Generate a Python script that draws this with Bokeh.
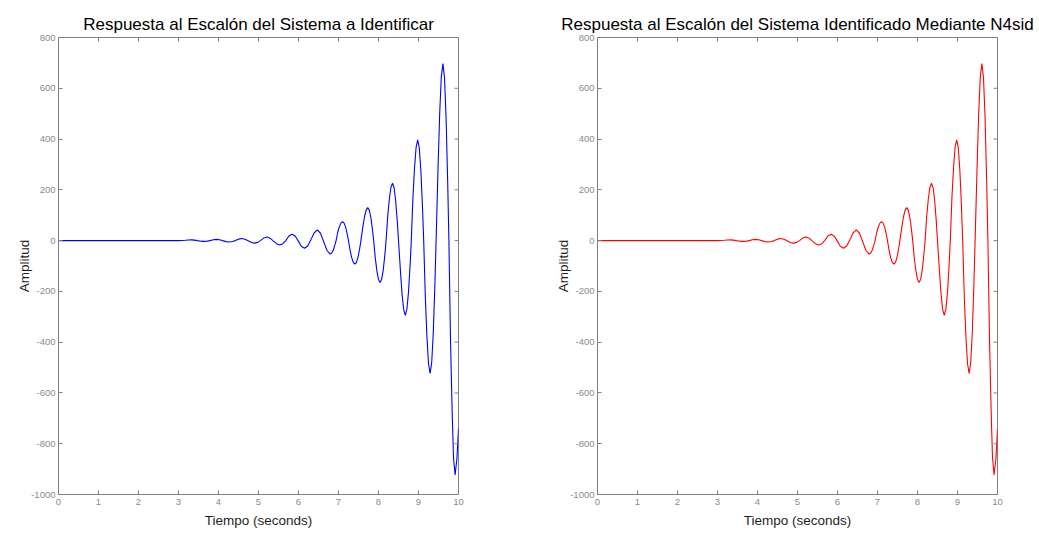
import math
from bokeh.plotting import figure
from bokeh.models import Range1d, FixedTicker
from bokeh.layouts import row
from bokeh.embed import file_html
from bokeh.resources import INLINE

# ---- data (time in seconds, amplitude) ----
time_s = [0.0, 3.00, 3.17, 3.25,
          3.32, 3.40, 3.47, 3.56,
          3.64, 3.72, 3.79, 3.87,
          3.95, 4.03, 4.10, 4.19,
          4.27, 4.35, 4.42, 4.50,
          4.58, 4.66, 4.73, 4.82,
          4.90, 4.98, 5.05, 5.13,
          5.21, 5.29, 5.36, 5.45,
          5.53, 5.61, 5.68, 5.76,
          5.84, 5.92, 5.99, 6.07,
          6.15, 6.23, 6.30, 6.39,
          6.47, 6.55, 6.62, 6.71,
          6.79, 6.83, 6.87, 6.91, 6.94, 6.98, 7.02, 7.06,
          7.10, 7.14, 7.18, 7.22, 7.25, 7.29, 7.33, 7.37,
          7.41, 7.45, 7.49, 7.53, 7.56, 7.61, 7.65, 7.69,
          7.73, 7.77, 7.81, 7.85, 7.88, 7.92, 7.96, 8.00,
          8.04, 8.08, 8.12, 8.16, 8.19, 8.23, 8.27, 8.31,
          8.35, 8.39, 8.43, 8.47, 8.50, 8.55, 8.59, 8.63,
          8.67, 8.71, 8.75, 8.79, 8.82, 8.86, 8.90, 8.94,
          8.98, 9.02, 9.06, 9.10, 9.13, 9.17, 9.21, 9.25,
          9.29, 9.33, 9.37, 9.41, 9.44, 9.49, 9.53, 9.57,
          9.61, 9.65, 9.69, 9.73, 9.76, 9.80, 9.84, 9.875,
          9.915, 9.96, 10.0]

amp_reference = [0.0, 0.0, 1.2, 2.2,
                 3.0, 2.0, 0.0, -2.2,
                 -3.0, -2.1, 0.0, 3.4,
                 5.0, 3.4, 0.0, -4.0,
                 -5.5, -3.8, 0.0, 5.8,
                 8.0, 5.5, 0.0, -7.2,
                 -10.0, -6.9, 0.0, 10.0,
                 14.0, 9.7, 0.0, -12.0,
                 -17.0, -12.0, 0.0, 18.0,
                 25.0, 17.0, 0.0, -22.0,
                 -30.0, -21.0, 0.0, 30.0,
                 42.0, 29.0, 0.0, -38.0,
                 -53.0, -49.0, -37.0, -17.0, 0.0, 32.0, 54.0, 69.0,
                 75.0, 69.0, 52.0, 25.0, 0.0, -39.0, -67.0, -86.0,
                 -93.0, -86.0, -64.0, -31.0, 0.0, 55.0, 94.0, 120.0,
                 130.0, 120.0, 90.0, 43.0, 0.0, -69.0, -119.0, -153.0,
                 -165.0, -152.0, -114.0, -54.0, 0.0, 95.0, 163.0, 209.0,
                 226.0, 208.0, 156.0, 75.0, 0.0, -123.0, -212.0, -272.0,
                 -294.0, -270.0, -203.0, -97.0, 0.0, 167.0, 285.0, 367.0,
                 397.0, 365.0, 274.0, 131.0, 0.0, -220.0, -376.0, -484.0,
                 -523.0, -481.0, -361.0, -173.0, 0.0, 293.0, 502.0, 645.0,
                 697.0, 641.0, 481.0, 230.0, 0.0, -388.0, -664.0, -854.0,
                 -923.0, -860.0, -740.0]

amp_identified = list(amp_reference)

x_ticks = [0, 1, 2, 3, 4, 5, 6, 7, 8, 9, 10]
y_ticks = [-1000, -800, -600, -400, -200, 0, 200, 400, 600, 800]
y_tick_labels = ["-1000", "-800", "-600", "-400", "-200", "0", "200", "400", "600", "800"]

titles = ["Respuesta al Escalón del Sistema a Identificar",
          "Respuesta al Escalón del Sistema Identificado Mediante N4sid"]
x_label = "Tiempo (seconds)"
y_label = "Amplitud"

AX = "#808080"
LBL = "#8a8a8a"
TXT = "#1e1e1e"
FONT = "Liberation Sans"
X0, X1, Y0, Y1 = 0, 10, -1000, 800


def make_panel(title, t, y, color, width, border_right):
    p = figure(width=width, height=533, output_backend="svg", toolbar_location=None,
               x_range=Range1d(X0, X1), y_range=Range1d(Y0, Y1),
               min_border_left=58, min_border_right=border_right,
               min_border_top=37, min_border_bottom=39)
    p.title.text = title
    p.title.align = "center"
    p.title.text_font = FONT
    p.title.text_font_size = "17px"
    p.title.text_font_style = "normal"
    p.title.text_color = "#000000"
    p.title.standoff = 8
    p.xgrid.visible = False
    p.ygrid.visible = False
    p.outline_line_color = AX
    p.background_fill_color = "white"
    p.border_fill_color = "white"

    p.line(t, y, line_color=color, line_width=1.1)

    # inward ticks on the top and right edges of the box
    p.ray(x=x_ticks, y=[Y1] * len(x_ticks), length=4, length_units="screen",
          angle=-math.pi / 2, line_color=AX, line_width=1)
    p.ray(x=[X1] * len(y_ticks), y=y_ticks, length=4, length_units="screen",
          angle=math.pi, line_color=AX, line_width=1)

    xa = p.xaxis[0]
    xa.ticker = FixedTicker(ticks=x_ticks)
    ya = p.yaxis[0]
    ya.ticker = FixedTicker(ticks=y_ticks)
    ya.major_label_overrides = {v: s for v, s in zip(y_ticks, y_tick_labels)}
    for ax in (xa, ya):
        ax.axis_line_color = AX
        ax.major_tick_line_color = AX
        ax.major_tick_in = 4
        ax.major_tick_out = 0
        ax.minor_tick_line_color = None
        ax.major_label_text_font = FONT
        ax.major_label_text_color = LBL
        ax.major_label_text_font_size = "9.5px"
        ax.axis_label_text_font = FONT
        ax.axis_label_text_font_size = "13.5px"
        ax.axis_label_text_font_style = "normal"
        ax.axis_label_text_color = TXT
    xa.axis_label = x_label
    xa.major_label_standoff = 4
    xa.axis_label_standoff = 5
    ya.axis_label = y_label
    ya.major_label_standoff = 3
    ya.axis_label_standoff = -4
    return p


p1 = make_panel(titles[0], time_s, amp_reference, "#0000ff", 539, 81)
p2 = make_panel(titles[1], time_s, amp_identified, "#ff0000", 500, 42)

layout = row(p1, p2)
open("out.html", "w").write(file_html(layout, INLINE))
